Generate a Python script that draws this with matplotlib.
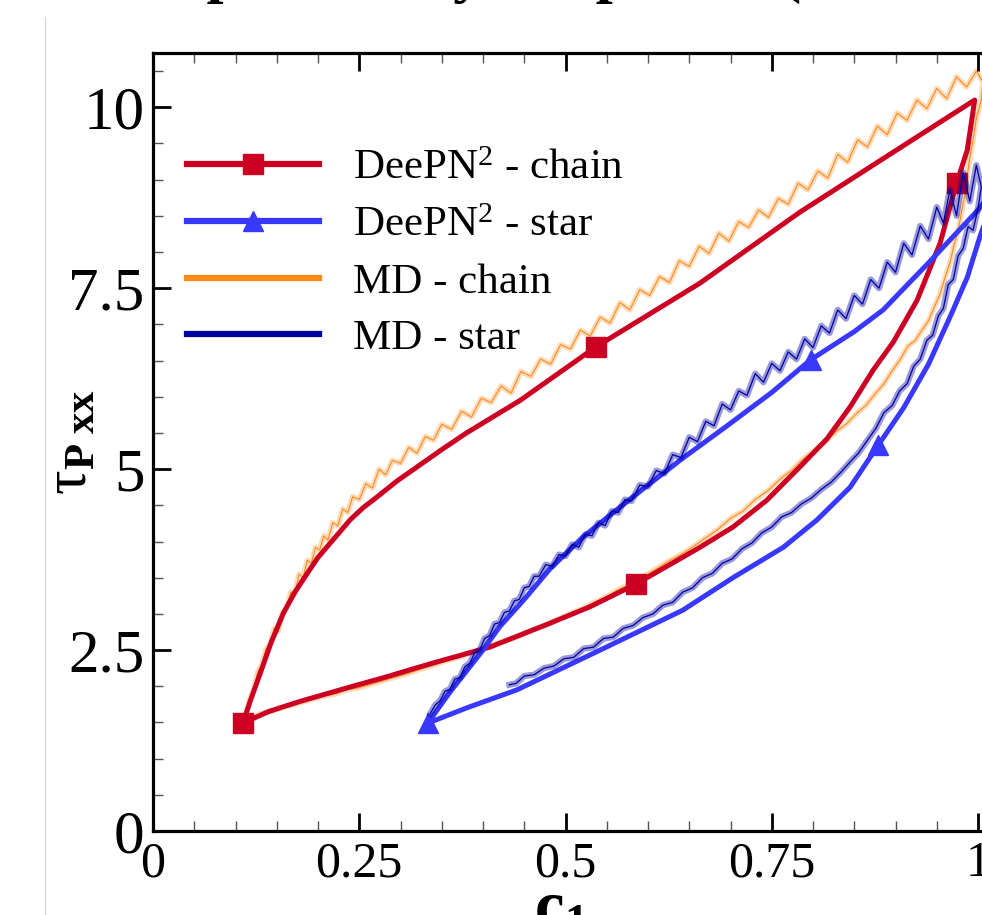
import numpy as np
import matplotlib.pyplot as plt
from matplotlib.lines import Line2D

plt.rcParams['font.family'] = ['Liberation Serif', 'DejaVu Serif']
plt.rcParams['mathtext.fontset'] = 'custom'
plt.rcParams['mathtext.rm'] = 'Liberation Serif'
plt.rcParams['mathtext.it'] = 'Liberation Serif:italic'
plt.rcParams['mathtext.bf'] = 'Liberation Serif:bold'

# DeePN^2 chain: upper branch, steep drop at c1 ~ 1, lower branch back to start
chain_x = [0.109, 0.118, 0.130, 0.143, 0.158, 0.172, 0.187, 0.200, 0.215, 0.239,
           0.255, 0.271, 0.295, 0.320, 0.350, 0.380, 0.445, 0.537, 0.663, 0.784,
           0.900, 0.996, 0.987, 0.974, 0.954, 0.926, 0.897, 0.873, 0.845, 0.817,
           0.784, 0.744, 0.703, 0.663, 0.585, 0.530, 0.481, 0.408, 0.339, 0.280,
           0.239, 0.178, 0.140, 0.109]
chain_y = [1.49, 1.80, 2.18, 2.60, 3.01, 3.30, 3.56, 3.78, 3.98, 4.30,
           4.47, 4.61, 4.83, 5.03, 5.27, 5.50, 5.95, 6.69, 7.57, 8.55,
           9.40, 10.10, 9.41, 8.95, 8.12, 7.33, 6.75, 6.37, 5.86, 5.42,
           5.03, 4.57, 4.20, 3.92, 3.41, 3.10, 2.87, 2.54, 2.32, 2.12,
           1.99, 1.79, 1.65, 1.49]
chain_marks = [0, 17, 23, 34]

# DeePN^2 star
star_x = [0.333, 0.360, 0.400, 0.420, 0.450, 0.481, 0.521, 0.560, 0.600, 0.642,
          0.696, 0.750, 0.797, 0.850, 0.885, 0.940, 1.000, 1.025, 1.002, 0.987,
          0.966, 0.940, 0.910, 0.879, 0.845, 0.805, 0.764, 0.703, 0.642, 0.542,
          0.441, 0.380, 0.333]
star_y = [1.49, 1.92, 2.50, 2.82, 3.20, 3.62, 4.06, 4.42, 4.78, 5.15,
          5.60, 6.06, 6.51, 6.90, 7.20, 7.85, 8.58, 8.95, 8.20, 7.65,
          7.10, 6.45, 5.85, 5.33, 4.75, 4.30, 3.92, 3.50, 3.05, 2.50,
          1.95, 1.70, 1.49]
star_marks = [0, 12, 23]

# MD chain (raw trace)
md_chain_x = [0.110, 0.116, 0.122, 0.127, 0.132, 0.137, 0.142, 0.147, 0.152, 0.157,
              0.162, 0.167, 0.172, 0.177, 0.182, 0.187, 0.192, 0.197, 0.202, 0.207,
              0.212, 0.218, 0.224, 0.230, 0.236, 0.242, 0.250, 0.258, 0.266, 0.274,
              0.282, 0.290, 0.300, 0.310, 0.320, 0.330, 0.340, 0.350, 0.362, 0.374,
              0.386, 0.398, 0.410, 0.422, 0.434, 0.446, 0.458, 0.470, 0.482, 0.494,
              0.506, 0.518, 0.530, 0.542, 0.554, 0.566, 0.578, 0.590, 0.602, 0.614,
              0.626, 0.638, 0.650, 0.662, 0.674, 0.686, 0.698, 0.710, 0.722, 0.734,
              0.746, 0.758, 0.770, 0.782, 0.794, 0.806, 0.818, 0.830, 0.842, 0.854,
              0.866, 0.878, 0.890, 0.902, 0.914, 0.926, 0.938, 0.950, 0.962, 0.974,
              0.986, 0.998, 1.006,
              1.004, 0.998, 0.994, 0.990, 0.987, 0.984, 0.980, 0.976, 0.971, 0.966,
              0.960, 0.954, 0.947, 0.940, 0.932, 0.924, 0.915, 0.906, 0.896, 0.886,
              0.876, 0.864, 0.852, 0.840, 0.828, 0.815, 0.802, 0.788, 0.774, 0.760,
              0.745, 0.730, 0.715, 0.700, 0.685, 0.670, 0.655, 0.640, 0.625, 0.610,
              0.595, 0.580, 0.565, 0.550, 0.535, 0.520, 0.505, 0.490, 0.475, 0.460,
              0.445, 0.430, 0.415, 0.400, 0.385, 0.370, 0.355, 0.340, 0.325, 0.310,
              0.295, 0.280, 0.265, 0.250, 0.235, 0.220, 0.205, 0.190, 0.175, 0.160,
              0.145, 0.130, 0.118, 0.110]
md_chain_y = [1.50, 1.78, 1.96, 2.20, 2.30, 2.52, 2.58, 2.80, 2.76, 3.02,
              3.08, 3.30, 3.28, 3.55, 3.50, 3.74, 3.70, 3.92, 3.88, 4.08,
              4.02, 4.26, 4.22, 4.45, 4.40, 4.62, 4.58, 4.80, 4.74, 5.00,
              4.92, 5.12, 5.08, 5.30, 5.22, 5.45, 5.40, 5.62, 5.55, 5.80,
              5.72, 5.98, 5.92, 6.15, 6.05, 6.35, 6.28, 6.52, 6.45, 6.72,
              6.66, 6.92, 6.84, 7.10, 7.02, 7.30, 7.20, 7.48, 7.40, 7.66,
              7.58, 7.88, 7.80, 8.08, 7.98, 8.26, 8.15, 8.42, 8.34, 8.58,
              8.48, 8.74, 8.66, 8.95, 8.86, 9.12, 9.02, 9.35, 9.24, 9.55,
              9.45, 9.74, 9.62, 9.92, 9.82, 10.10, 9.98, 10.26, 10.12, 10.42,
              10.28, 10.50, 10.35,
              10.10, 9.85, 9.55, 9.30, 9.05, 8.80, 8.55, 8.30, 8.10, 7.85,
              7.65, 7.42, 7.24, 7.05, 6.92, 6.78, 6.70, 6.52, 6.36, 6.18,
              6.05, 5.88, 5.76, 5.62, 5.52, 5.38, 5.26, 5.14, 4.98, 4.86,
              4.70, 4.58, 4.42, 4.32, 4.17, 4.05, 3.93, 3.82, 3.73, 3.62,
              3.52, 3.42, 3.34, 3.24, 3.16, 3.07, 3.00, 2.92, 2.84, 2.78,
              2.70, 2.64, 2.58, 2.52, 2.46, 2.40, 2.35, 2.29, 2.24, 2.18,
              2.13, 2.08, 2.03, 1.98, 1.95, 1.89, 1.86, 1.81, 1.76, 1.72,
              1.66, 1.62, 1.55, 1.50]

# MD star (raw trace)
md_star_x = [0.336, 0.342, 0.348, 0.354, 0.360, 0.366, 0.372, 0.378, 0.384, 0.390,
             0.396, 0.402, 0.408, 0.414, 0.420, 0.426, 0.432, 0.438, 0.444, 0.450,
             0.456, 0.462, 0.468, 0.476, 0.484, 0.492, 0.500, 0.508, 0.516, 0.524,
             0.532, 0.540, 0.548, 0.556, 0.564, 0.572, 0.580, 0.590, 0.600, 0.610,
             0.620, 0.630, 0.640, 0.650, 0.660, 0.670, 0.680, 0.690, 0.700, 0.710,
             0.720, 0.730, 0.740, 0.750, 0.760, 0.770, 0.780, 0.790, 0.800, 0.810,
             0.820, 0.830, 0.840, 0.850, 0.860, 0.870, 0.880, 0.890, 0.900, 0.910,
             0.920, 0.930, 0.940, 0.950, 0.958, 0.966, 0.974, 0.982, 0.990, 0.998,
             1.004,
             1.000, 0.994, 0.988, 0.982, 0.976, 0.970, 0.964, 0.958, 0.952, 0.945,
             0.938, 0.930, 0.922, 0.914, 0.905, 0.896, 0.886, 0.876, 0.866, 0.855,
             0.845, 0.834, 0.822, 0.810, 0.798, 0.786, 0.774, 0.762, 0.750, 0.738,
             0.726, 0.714, 0.702, 0.690, 0.678, 0.666, 0.654, 0.642, 0.630, 0.618,
             0.606, 0.594, 0.582, 0.570, 0.558, 0.546, 0.534, 0.522, 0.510, 0.498,
             0.486, 0.474, 0.462, 0.450, 0.440, 0.432]
md_star_y = [1.62, 1.74, 1.80, 1.93, 1.96, 2.10, 2.12, 2.27, 2.32, 2.46,
             2.50, 2.66, 2.70, 2.86, 2.88, 3.02, 3.04, 3.18, 3.20, 3.36,
             3.38, 3.52, 3.52, 3.68, 3.66, 3.82, 3.80, 3.96, 3.92, 4.10,
             4.08, 4.26, 4.22, 4.42, 4.40, 4.58, 4.56, 4.78, 4.76, 4.98,
             4.94, 5.20, 5.16, 5.44, 5.38, 5.66, 5.60, 5.90, 5.82, 6.08,
             6.02, 6.32, 6.20, 6.46, 6.36, 6.62, 6.52, 6.80, 6.68, 6.98,
             6.88, 7.20, 7.08, 7.40, 7.28, 7.62, 7.50, 7.86, 7.72, 8.12,
             7.96, 8.36, 8.18, 8.62, 8.40, 8.86, 8.50, 9.10, 8.70, 9.20,
             8.90,
             8.60, 8.30, 8.35, 8.05, 7.95, 7.62, 7.55, 7.22, 7.12, 6.85,
             6.78, 6.52, 6.42, 6.18, 6.08, 5.88, 5.78, 5.56, 5.40, 5.22,
             5.10, 4.96, 4.82, 4.72, 4.60, 4.52, 4.40, 4.34, 4.20, 4.12,
             3.98, 3.90, 3.76, 3.70, 3.56, 3.50, 3.36, 3.30, 3.16, 3.12,
             3.00, 2.95, 2.84, 2.80, 2.68, 2.66, 2.54, 2.52, 2.40, 2.38,
             2.28, 2.25, 2.16, 2.14, 2.04, 2.02]

series_names = ['DeePN$^2$ - chain', 'DeePN$^2$ - star', 'MD - chain', 'MD - star']
x_ticks = [0, 0.25, 0.5, 0.75, 1]
x_tick_labels = ['0', '0.25', '0.5', '0.75', '1']
y_ticks = [0, 2.5, 5, 7.5, 10]
y_tick_labels = ['0', '2.5', '5', '7.5', '10']

RED = '#cc0022'
BLUE = '#3838ff'
ORANGE = '#ff8a1c'
NAVY = '#0000a0'

fig = plt.figure(figsize=(9.82, 9.15), dpi=100)
ax = fig.add_axes([153 / 982, 84 / 915, 907.5 / 982, 778 / 915])

# MD traces: faint wide band underneath, thin jagged line on top
ax.plot(md_chain_x, md_chain_y, color=ORANGE, lw=4, alpha=0.3, zorder=1)
ax.plot(md_chain_x, md_chain_y, color=ORANGE, lw=0.8, zorder=1)
ax.plot(chain_x, chain_y, color=RED, lw=3.6, marker='s', ms=14,
        markevery=chain_marks, zorder=2)
ax.plot(star_x, star_y, color=BLUE, lw=3.6, marker='^', ms=15,
        markevery=star_marks, zorder=3)
ax.plot(md_star_x, md_star_y, color=NAVY, lw=4.5, alpha=0.4, zorder=4)
ax.plot(md_star_x, md_star_y, color=NAVY, lw=0.9, zorder=4)

ax.set_xlim(0, 1.1)
ax.set_ylim(0, 10.75)
ax.set_xticks(x_ticks, x_tick_labels)
ax.set_yticks(y_ticks, y_tick_labels)
ax.set_xticks(np.arange(0, 1.1, 0.05), minor=True)
ax.set_yticks(np.arange(0, 10.75, 0.5), minor=True)
ax.tick_params(which='both', direction='in', top=True, right=False)
ax.tick_params(which='major', length=13, width=2)
ax.tick_params(which='minor', length=7.5, width=1, color='#555555')
ax.tick_params(axis='x', labelsize=36, pad=7)
ax.tick_params(axis='y', labelsize=44, pad=6)
for side in ['left', 'bottom', 'top']:
    ax.spines[side].set_linewidth(2.3)
ax.spines['right'].set_visible(False)

ax.set_xlabel(r'$\mathbf{c_1}$', fontsize=48)
ax.xaxis.set_label_coords((560 - 153) / 907.5, -0.064)
ax.set_ylabel(r'$\mathrm{\tau}_{\mathbf{P\ xx}}$', fontsize=44)
ax.yaxis.set_label_coords(-0.059, 0.5)

handles = [
    Line2D([], [], color=RED, lw=4.5, marker='s', ms=15),
    Line2D([], [], color=BLUE, lw=4.5, marker='^', ms=15),
    Line2D([], [], color=ORANGE, lw=4.5),
    Line2D([], [], color=NAVY, lw=4.5),
]
ax.legend(handles, series_names, loc='upper left', fontsize=31, frameon=False,
          handlelength=3.07, handletextpad=0.78, labelspacing=0.41,
          borderaxespad=0, bbox_to_anchor=(170 / 982, 0.856),
          bbox_transform=fig.transFigure)

fig.text(81 / 982, 924 / 915, 'Comparison by the period (chain vs. star)',
         fontsize=44, fontweight='bold', va='baseline', ha='left')
fig.add_artist(Line2D([45 / 982, 45 / 982], [0, 898 / 915], color='#d8d8d8',
                      lw=1, transform=fig.transFigure))

fig.savefig('out.png', dpi=100)
